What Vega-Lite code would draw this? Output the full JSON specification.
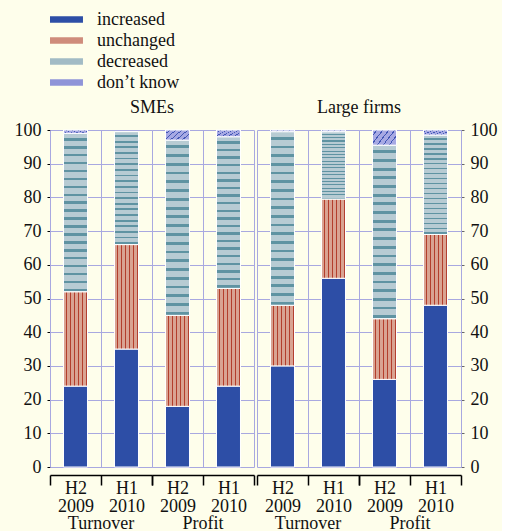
{
  "$schema": "https://vega.github.io/schema/vega-lite/v6.json",
  "background": "#FEFEEB",
  "padding": {"left": 14, "top": 9, "right": 5, "bottom": 0},
  "datasets": {
    "responses": [
      {"response": "increased", "rank": 1},
      {"response": "unchanged", "rank": 2},
      {"response": "decreased", "rank": 3},
      {"response": "don’t know", "rank": 4}
    ],
    "d": [
      {"firm": "SMEs", "measure": "Turnover", "period": "H2 2009", "response": "increased", "value": 24},
      {"firm": "SMEs", "measure": "Turnover", "period": "H2 2009", "response": "unchanged", "value": 28},
      {"firm": "SMEs", "measure": "Turnover", "period": "H2 2009", "response": "decreased", "value": 47},
      {"firm": "SMEs", "measure": "Turnover", "period": "H2 2009", "response": "don’t know", "value": 1},
      {"firm": "SMEs", "measure": "Turnover", "period": "H1 2010", "response": "increased", "value": 35},
      {"firm": "SMEs", "measure": "Turnover", "period": "H1 2010", "response": "unchanged", "value": 31},
      {"firm": "SMEs", "measure": "Turnover", "period": "H1 2010", "response": "decreased", "value": 33.5},
      {"firm": "SMEs", "measure": "Profit", "period": "H2 2009", "response": "increased", "value": 18},
      {"firm": "SMEs", "measure": "Profit", "period": "H2 2009", "response": "unchanged", "value": 27},
      {"firm": "SMEs", "measure": "Profit", "period": "H2 2009", "response": "decreased", "value": 52},
      {"firm": "SMEs", "measure": "Profit", "period": "H2 2009", "response": "don’t know", "value": 3},
      {"firm": "SMEs", "measure": "Profit", "period": "H1 2010", "response": "increased", "value": 24},
      {"firm": "SMEs", "measure": "Profit", "period": "H1 2010", "response": "unchanged", "value": 29},
      {"firm": "SMEs", "measure": "Profit", "period": "H1 2010", "response": "decreased", "value": 45},
      {"firm": "SMEs", "measure": "Profit", "period": "H1 2010", "response": "don’t know", "value": 2},
      {"firm": "Large firms", "measure": "Turnover", "period": "H2 2009", "response": "increased", "value": 30},
      {"firm": "Large firms", "measure": "Turnover", "period": "H2 2009", "response": "unchanged", "value": 18},
      {"firm": "Large firms", "measure": "Turnover", "period": "H2 2009", "response": "decreased", "value": 51.5},
      {"firm": "Large firms", "measure": "Turnover", "period": "H2 2009", "response": "don’t know", "value": 0.5},
      {"firm": "Large firms", "measure": "Turnover", "period": "H1 2010", "response": "increased", "value": 56},
      {"firm": "Large firms", "measure": "Turnover", "period": "H1 2010", "response": "unchanged", "value": 23.5},
      {"firm": "Large firms", "measure": "Turnover", "period": "H1 2010", "response": "decreased", "value": 20},
      {"firm": "Large firms", "measure": "Turnover", "period": "H1 2010", "response": "don’t know", "value": 0.5},
      {"firm": "Large firms", "measure": "Profit", "period": "H2 2009", "response": "increased", "value": 26},
      {"firm": "Large firms", "measure": "Profit", "period": "H2 2009", "response": "unchanged", "value": 18},
      {"firm": "Large firms", "measure": "Profit", "period": "H2 2009", "response": "decreased", "value": 51.5},
      {"firm": "Large firms", "measure": "Profit", "period": "H2 2009", "response": "don’t know", "value": 4.5},
      {"firm": "Large firms", "measure": "Profit", "period": "H1 2010", "response": "increased", "value": 48},
      {"firm": "Large firms", "measure": "Profit", "period": "H1 2010", "response": "unchanged", "value": 21},
      {"firm": "Large firms", "measure": "Profit", "period": "H1 2010", "response": "decreased", "value": 29.5},
      {"firm": "Large firms", "measure": "Profit", "period": "H1 2010", "response": "don’t know", "value": 1.5}
    ]
  },
  "config": {
    "font": "Liberation Serif",
    "view": {"stroke": null},
    "axis": {
      "labelFont": "Liberation Serif", "labelFontSize": 18, "labelColor": "#111",
      "gridColor": "#A8A8E0", "gridWidth": 1, "gridOpacity": 1
    },
    "header": {
      "titleFont": "Liberation Serif", "titleFontSize": 18, "titleFontWeight": "normal", "titleColor": "#111",
      "labelFont": "Liberation Serif", "labelFontSize": 18, "labelColor": "#111"
    },
    "legend": {
      "labelFont": "Liberation Serif", "labelFontSize": 18, "labelColor": "#111"
    }
  },
  "spacing": 1,
  "hconcat": [
    {
      "data": {"name": "d"},
      "transform": [
        {"filter": "datum.firm === 'SMEs'"},
        {"lookup": "response", "from": {"data": {"name": "responses"}, "key": "response", "fields": ["rank"]}}
      ],
      "facet": {
        "column": {
          "field": "measure", "type": "nominal", "sort": ["Turnover", "Profit"], "title": "SMEs",
          "header": {"labelOrient": "bottom", "titleOrient": "top", "labelPadding": 0, "titlePadding": 2}
        }
      },
      "spacing": 0,
      "spec": {
        "width": 102, "height": 337,
        "mark": {"type": "bar", "width": {"band": 0.47}, "stroke": "white", "strokeWidth": 1},
        "encoding": {
          "x": {
            "field": "period", "type": "nominal", "sort": ["H2 2009", "H1 2010"], "title": null,
            "scale": {"paddingInner": 0, "paddingOuter": 0},
            "axis": {"labelAngle": 0, "labelExpr": "split(datum.label, ' ')", "labelLineHeight": 18, "tickBand": "extent", "grid": true, "domainColor": "#000", "domainWidth": 1.5, "tickColor": "#000", "tickSize": 10, "tickWidth": 1.5, "offset": 4, "labelPadding": -6}
          },
          "y": {
            "field": "value", "type": "quantitative", "stack": "zero", "title": null,
            "scale": {"domain": [0, 100], "nice": false},
            "axis": {"orient": "left", "values": [0, 10, 20, 30, 40, 50, 60, 70, 80, 90, 100], "domainColor": "#000", "tickColor": "#000", "tickSize": 3, "labelPadding": 6, "grid": true}
          },
          "order": {"field": "rank", "type": "quantitative", "sort": "ascending"},
          "fill": {
            "field": "response", "type": "nominal",
            "sort": ["increased", "unchanged", "decreased", "don’t know"],
            "scale": {
              "domain": ["increased", "unchanged", "decreased", "don’t know"],
              "range": ["#2D4EA6", "#CF8C7B", "#A2BBC5", "#8F94D8"]
            },
            "condition": [
              {"test": "datum.response === 'unchanged'", "value": {"gradient": "linear", "x1": 0, "y1": 0, "x2": 1, "y2": 0, "stops": [
                  {"offset": 0, "color": "#D9A392"}, {"offset": 0.09, "color": "#D9A392"}, {"offset": 0.09, "color": "#B33E2C"}, {"offset": 0.14, "color": "#B33E2C"}, {"offset": 0.14, "color": "#D9A392"},
                  {"offset": 0.257, "color": "#D9A392"}, {"offset": 0.257, "color": "#B33E2C"}, {"offset": 0.307, "color": "#B33E2C"}, {"offset": 0.307, "color": "#D9A392"},
                  {"offset": 0.423, "color": "#D9A392"}, {"offset": 0.423, "color": "#B33E2C"}, {"offset": 0.473, "color": "#B33E2C"}, {"offset": 0.473, "color": "#D9A392"},
                  {"offset": 0.59, "color": "#D9A392"}, {"offset": 0.59, "color": "#B33E2C"}, {"offset": 0.64, "color": "#B33E2C"}, {"offset": 0.64, "color": "#D9A392"},
                  {"offset": 0.757, "color": "#D9A392"}, {"offset": 0.757, "color": "#B33E2C"}, {"offset": 0.807, "color": "#B33E2C"}, {"offset": 0.807, "color": "#D9A392"},
                  {"offset": 0.923, "color": "#D9A392"}, {"offset": 0.923, "color": "#B33E2C"}, {"offset": 0.973, "color": "#B33E2C"}, {"offset": 0.973, "color": "#D9A392"},
                  {"offset": 1, "color": "#D9A392"}
                ]}},
              {"test": "datum.response === 'decreased'", "value": {"gradient": "linear", "x1": 0, "y1": 0, "x2": 0, "y2": 1, "stops": [
                  {"offset": 0, "color": "#B7CBD3"},
                  {"offset": 0.03, "color": "#B7CBD3"}, {"offset": 0.03, "color": "#5F93A2"}, {"offset": 0.046, "color": "#5F93A2"}, {"offset": 0.046, "color": "#B7CBD3"},
                  {"offset": 0.08, "color": "#B7CBD3"}, {"offset": 0.08, "color": "#5F93A2"}, {"offset": 0.096, "color": "#5F93A2"}, {"offset": 0.096, "color": "#B7CBD3"},
                  {"offset": 0.13, "color": "#B7CBD3"}, {"offset": 0.13, "color": "#5F93A2"}, {"offset": 0.146, "color": "#5F93A2"}, {"offset": 0.146, "color": "#B7CBD3"},
                  {"offset": 0.18, "color": "#B7CBD3"}, {"offset": 0.18, "color": "#5F93A2"}, {"offset": 0.196, "color": "#5F93A2"}, {"offset": 0.196, "color": "#B7CBD3"},
                  {"offset": 0.23, "color": "#B7CBD3"}, {"offset": 0.23, "color": "#5F93A2"}, {"offset": 0.246, "color": "#5F93A2"}, {"offset": 0.246, "color": "#B7CBD3"},
                  {"offset": 0.28, "color": "#B7CBD3"}, {"offset": 0.28, "color": "#5F93A2"}, {"offset": 0.296, "color": "#5F93A2"}, {"offset": 0.296, "color": "#B7CBD3"},
                  {"offset": 0.33, "color": "#B7CBD3"}, {"offset": 0.33, "color": "#5F93A2"}, {"offset": 0.346, "color": "#5F93A2"}, {"offset": 0.346, "color": "#B7CBD3"},
                  {"offset": 0.38, "color": "#B7CBD3"}, {"offset": 0.38, "color": "#5F93A2"}, {"offset": 0.396, "color": "#5F93A2"}, {"offset": 0.396, "color": "#B7CBD3"},
                  {"offset": 0.43, "color": "#B7CBD3"}, {"offset": 0.43, "color": "#5F93A2"}, {"offset": 0.446, "color": "#5F93A2"}, {"offset": 0.446, "color": "#B7CBD3"},
                  {"offset": 0.48, "color": "#B7CBD3"}, {"offset": 0.48, "color": "#5F93A2"}, {"offset": 0.496, "color": "#5F93A2"}, {"offset": 0.496, "color": "#B7CBD3"},
                  {"offset": 0.53, "color": "#B7CBD3"}, {"offset": 0.53, "color": "#5F93A2"}, {"offset": 0.546, "color": "#5F93A2"}, {"offset": 0.546, "color": "#B7CBD3"},
                  {"offset": 0.58, "color": "#B7CBD3"}, {"offset": 0.58, "color": "#5F93A2"}, {"offset": 0.596, "color": "#5F93A2"}, {"offset": 0.596, "color": "#B7CBD3"},
                  {"offset": 0.63, "color": "#B7CBD3"}, {"offset": 0.63, "color": "#5F93A2"}, {"offset": 0.646, "color": "#5F93A2"}, {"offset": 0.646, "color": "#B7CBD3"},
                  {"offset": 0.68, "color": "#B7CBD3"}, {"offset": 0.68, "color": "#5F93A2"}, {"offset": 0.696, "color": "#5F93A2"}, {"offset": 0.696, "color": "#B7CBD3"},
                  {"offset": 0.73, "color": "#B7CBD3"}, {"offset": 0.73, "color": "#5F93A2"}, {"offset": 0.746, "color": "#5F93A2"}, {"offset": 0.746, "color": "#B7CBD3"},
                  {"offset": 0.78, "color": "#B7CBD3"}, {"offset": 0.78, "color": "#5F93A2"}, {"offset": 0.796, "color": "#5F93A2"}, {"offset": 0.796, "color": "#B7CBD3"},
                  {"offset": 0.83, "color": "#B7CBD3"}, {"offset": 0.83, "color": "#5F93A2"}, {"offset": 0.846, "color": "#5F93A2"}, {"offset": 0.846, "color": "#B7CBD3"},
                  {"offset": 0.88, "color": "#B7CBD3"}, {"offset": 0.88, "color": "#5F93A2"}, {"offset": 0.896, "color": "#5F93A2"}, {"offset": 0.896, "color": "#B7CBD3"},
                  {"offset": 0.93, "color": "#B7CBD3"}, {"offset": 0.93, "color": "#5F93A2"}, {"offset": 0.946, "color": "#5F93A2"}, {"offset": 0.946, "color": "#B7CBD3"},
                  {"offset": 0.98, "color": "#B7CBD3"}, {"offset": 0.98, "color": "#5F93A2"}, {"offset": 0.996, "color": "#5F93A2"}, {"offset": 0.996, "color": "#B7CBD3"},
                  {"offset": 1, "color": "#B7CBD3"}
                ]}},
              {"test": "datum.response === 'don’t know'", "value": {"gradient": "linear", "x1": 0, "y1": 0, "x2": 1, "y2": 0.5, "stops": [
                  {"offset": 0, "color": "#A7A9E3"},
                  {"offset": 0.13, "color": "#A7A9E3"}, {"offset": 0.13, "color": "#4257B5"}, {"offset": 0.17, "color": "#4257B5"}, {"offset": 0.17, "color": "#A7A9E3"},
                  {"offset": 0.33, "color": "#A7A9E3"}, {"offset": 0.33, "color": "#4257B5"}, {"offset": 0.37, "color": "#4257B5"}, {"offset": 0.37, "color": "#A7A9E3"},
                  {"offset": 0.53, "color": "#A7A9E3"}, {"offset": 0.53, "color": "#4257B5"}, {"offset": 0.57, "color": "#4257B5"}, {"offset": 0.57, "color": "#A7A9E3"},
                  {"offset": 0.73, "color": "#A7A9E3"}, {"offset": 0.73, "color": "#4257B5"}, {"offset": 0.77, "color": "#4257B5"}, {"offset": 0.77, "color": "#A7A9E3"},
                  {"offset": 0.93, "color": "#A7A9E3"}, {"offset": 0.93, "color": "#4257B5"}, {"offset": 0.97, "color": "#4257B5"}, {"offset": 0.97, "color": "#A7A9E3"},
                  {"offset": 1, "color": "#A7A9E3"}
                ]}}
            ],
            "legend": {
              "title": null, "orient": "top", "direction": "vertical", "columns": 1,
              "symbolType": "M-1,-0.32H2.14V0.32H-1Z", "symbolSize": 441, "symbolStrokeWidth": 0,
              "labelOffset": 26, "rowPadding": 1, "offset": 7,
              "encoding": {
                "symbols": {
                  "fill": {
                    "condition": [
                      {"test": "datum.value === 'unchanged'", "value": {"gradient": "linear", "x1": 0, "y1": 0, "x2": 1, "y2": 0, "stops": [
                        {"offset": 0, "color": "#D9A392"}, {"offset": 0.06, "color": "#D9A392"}, {"offset": 0.06, "color": "#B33E2C"}, {"offset": 0.09, "color": "#B33E2C"}, {"offset": 0.09, "color": "#D9A392"},
                        {"offset": 0.185, "color": "#D9A392"}, {"offset": 0.185, "color": "#B33E2C"}, {"offset": 0.215, "color": "#B33E2C"}, {"offset": 0.215, "color": "#D9A392"},
                        {"offset": 0.31, "color": "#D9A392"}, {"offset": 0.31, "color": "#B33E2C"}, {"offset": 0.34, "color": "#B33E2C"}, {"offset": 0.34, "color": "#D9A392"},
                        {"offset": 0.435, "color": "#D9A392"}, {"offset": 0.435, "color": "#B33E2C"}, {"offset": 0.465, "color": "#B33E2C"}, {"offset": 0.465, "color": "#D9A392"},
                        {"offset": 0.56, "color": "#D9A392"}, {"offset": 0.56, "color": "#B33E2C"}, {"offset": 0.59, "color": "#B33E2C"}, {"offset": 0.59, "color": "#D9A392"},
                        {"offset": 0.685, "color": "#D9A392"}, {"offset": 0.685, "color": "#B33E2C"}, {"offset": 0.715, "color": "#B33E2C"}, {"offset": 0.715, "color": "#D9A392"},
                        {"offset": 0.81, "color": "#D9A392"}, {"offset": 0.81, "color": "#B33E2C"}, {"offset": 0.84, "color": "#B33E2C"}, {"offset": 0.84, "color": "#D9A392"},
                        {"offset": 0.935, "color": "#D9A392"}, {"offset": 0.935, "color": "#B33E2C"}, {"offset": 0.965, "color": "#B33E2C"}, {"offset": 0.965, "color": "#D9A392"},
                        {"offset": 1, "color": "#D9A392"}
                      ]}},
                      {"test": "datum.value === 'decreased'", "value": {"gradient": "linear", "x1": 0, "y1": 0, "x2": 0, "y2": 1, "stops": [
                        {"offset": 0, "color": "#B7CBD3"}, {"offset": 0.38, "color": "#B7CBD3"}, {"offset": 0.38, "color": "#5F93A2"}, {"offset": 0.66, "color": "#5F93A2"}, {"offset": 0.66, "color": "#B7CBD3"}, {"offset": 1, "color": "#B7CBD3"}
                      ]}},
                      {"test": "datum.value === 'don’t know'", "value": {"gradient": "linear", "x1": 0, "y1": 0, "x2": 1, "y2": 0.2, "stops": [
                        {"offset": 0, "color": "#A7A9E3"}, {"offset": 0.1, "color": "#A7A9E3"}, {"offset": 0.1, "color": "#4257B5"}, {"offset": 0.13, "color": "#4257B5"}, {"offset": 0.13, "color": "#A7A9E3"},
                        {"offset": 0.27, "color": "#A7A9E3"}, {"offset": 0.27, "color": "#4257B5"}, {"offset": 0.3, "color": "#4257B5"}, {"offset": 0.3, "color": "#A7A9E3"},
                        {"offset": 0.44, "color": "#A7A9E3"}, {"offset": 0.44, "color": "#4257B5"}, {"offset": 0.47, "color": "#4257B5"}, {"offset": 0.47, "color": "#A7A9E3"},
                        {"offset": 0.61, "color": "#A7A9E3"}, {"offset": 0.61, "color": "#4257B5"}, {"offset": 0.64, "color": "#4257B5"}, {"offset": 0.64, "color": "#A7A9E3"},
                        {"offset": 0.78, "color": "#A7A9E3"}, {"offset": 0.78, "color": "#4257B5"}, {"offset": 0.81, "color": "#4257B5"}, {"offset": 0.81, "color": "#A7A9E3"},
                        {"offset": 0.95, "color": "#A7A9E3"}, {"offset": 0.95, "color": "#4257B5"}, {"offset": 0.98, "color": "#4257B5"}, {"offset": 0.98, "color": "#A7A9E3"},
                        {"offset": 1, "color": "#A7A9E3"}
                      ]}}
                    ],
                    "value": "#2D4EA6"
                  }
                }
              }
            }
          }
        }
      }
    },
    {
      "data": {"name": "d"},
      "transform": [
        {"filter": "datum.firm === 'Large firms'"},
        {"lookup": "response", "from": {"data": {"name": "responses"}, "key": "response", "fields": ["rank"]}}
      ],
      "facet": {
        "column": {
          "field": "measure", "type": "nominal", "sort": ["Turnover", "Profit"], "title": "Large firms",
          "header": {"labelOrient": "bottom", "titleOrient": "top", "labelPadding": 0, "titlePadding": 2}
        }
      },
      "spacing": 0,
      "spec": {
        "width": 102, "height": 337,
        "mark": {"type": "bar", "width": {"band": 0.47}, "stroke": "white", "strokeWidth": 1},
        "encoding": {
          "x": {
            "field": "period", "type": "nominal", "sort": ["H2 2009", "H1 2010"], "title": null,
            "scale": {"paddingInner": 0, "paddingOuter": 0},
            "axis": {"labelAngle": 0, "labelExpr": "split(datum.label, ' ')", "labelLineHeight": 18, "tickBand": "extent", "grid": true, "domainColor": "#000", "domainWidth": 1.5, "tickColor": "#000", "tickSize": 10, "tickWidth": 1.5, "offset": 4, "labelPadding": -6}
          },
          "y": {
            "field": "value", "type": "quantitative", "stack": "zero", "title": null,
            "scale": {"domain": [0, 100], "nice": false},
            "axis": {"orient": "right", "values": [0, 10, 20, 30, 40, 50, 60, 70, 80, 90, 100], "domainColor": "#666", "tickColor": "#666", "tickSize": 3, "labelPadding": 6, "grid": true}
          },
          "order": {"field": "rank", "type": "quantitative", "sort": "ascending"},
          "fill": {
            "field": "response", "type": "nominal",
            "sort": ["increased", "unchanged", "decreased", "don’t know"],
            "condition": [
              {"test": "datum.response === 'unchanged'", "value": {"gradient": "linear", "x1": 0, "y1": 0, "x2": 1, "y2": 0, "stops": [
                  {"offset": 0, "color": "#D9A392"}, {"offset": 0.09, "color": "#D9A392"}, {"offset": 0.09, "color": "#B33E2C"}, {"offset": 0.14, "color": "#B33E2C"}, {"offset": 0.14, "color": "#D9A392"},
                  {"offset": 0.257, "color": "#D9A392"}, {"offset": 0.257, "color": "#B33E2C"}, {"offset": 0.307, "color": "#B33E2C"}, {"offset": 0.307, "color": "#D9A392"},
                  {"offset": 0.423, "color": "#D9A392"}, {"offset": 0.423, "color": "#B33E2C"}, {"offset": 0.473, "color": "#B33E2C"}, {"offset": 0.473, "color": "#D9A392"},
                  {"offset": 0.59, "color": "#D9A392"}, {"offset": 0.59, "color": "#B33E2C"}, {"offset": 0.64, "color": "#B33E2C"}, {"offset": 0.64, "color": "#D9A392"},
                  {"offset": 0.757, "color": "#D9A392"}, {"offset": 0.757, "color": "#B33E2C"}, {"offset": 0.807, "color": "#B33E2C"}, {"offset": 0.807, "color": "#D9A392"},
                  {"offset": 0.923, "color": "#D9A392"}, {"offset": 0.923, "color": "#B33E2C"}, {"offset": 0.973, "color": "#B33E2C"}, {"offset": 0.973, "color": "#D9A392"},
                  {"offset": 1, "color": "#D9A392"}
                ]}},
              {"test": "datum.response === 'decreased'", "value": {"gradient": "linear", "x1": 0, "y1": 0, "x2": 0, "y2": 1, "stops": [
                  {"offset": 0, "color": "#B7CBD3"},
                  {"offset": 0.03, "color": "#B7CBD3"}, {"offset": 0.03, "color": "#5F93A2"}, {"offset": 0.046, "color": "#5F93A2"}, {"offset": 0.046, "color": "#B7CBD3"},
                  {"offset": 0.08, "color": "#B7CBD3"}, {"offset": 0.08, "color": "#5F93A2"}, {"offset": 0.096, "color": "#5F93A2"}, {"offset": 0.096, "color": "#B7CBD3"},
                  {"offset": 0.13, "color": "#B7CBD3"}, {"offset": 0.13, "color": "#5F93A2"}, {"offset": 0.146, "color": "#5F93A2"}, {"offset": 0.146, "color": "#B7CBD3"},
                  {"offset": 0.18, "color": "#B7CBD3"}, {"offset": 0.18, "color": "#5F93A2"}, {"offset": 0.196, "color": "#5F93A2"}, {"offset": 0.196, "color": "#B7CBD3"},
                  {"offset": 0.23, "color": "#B7CBD3"}, {"offset": 0.23, "color": "#5F93A2"}, {"offset": 0.246, "color": "#5F93A2"}, {"offset": 0.246, "color": "#B7CBD3"},
                  {"offset": 0.28, "color": "#B7CBD3"}, {"offset": 0.28, "color": "#5F93A2"}, {"offset": 0.296, "color": "#5F93A2"}, {"offset": 0.296, "color": "#B7CBD3"},
                  {"offset": 0.33, "color": "#B7CBD3"}, {"offset": 0.33, "color": "#5F93A2"}, {"offset": 0.346, "color": "#5F93A2"}, {"offset": 0.346, "color": "#B7CBD3"},
                  {"offset": 0.38, "color": "#B7CBD3"}, {"offset": 0.38, "color": "#5F93A2"}, {"offset": 0.396, "color": "#5F93A2"}, {"offset": 0.396, "color": "#B7CBD3"},
                  {"offset": 0.43, "color": "#B7CBD3"}, {"offset": 0.43, "color": "#5F93A2"}, {"offset": 0.446, "color": "#5F93A2"}, {"offset": 0.446, "color": "#B7CBD3"},
                  {"offset": 0.48, "color": "#B7CBD3"}, {"offset": 0.48, "color": "#5F93A2"}, {"offset": 0.496, "color": "#5F93A2"}, {"offset": 0.496, "color": "#B7CBD3"},
                  {"offset": 0.53, "color": "#B7CBD3"}, {"offset": 0.53, "color": "#5F93A2"}, {"offset": 0.546, "color": "#5F93A2"}, {"offset": 0.546, "color": "#B7CBD3"},
                  {"offset": 0.58, "color": "#B7CBD3"}, {"offset": 0.58, "color": "#5F93A2"}, {"offset": 0.596, "color": "#5F93A2"}, {"offset": 0.596, "color": "#B7CBD3"},
                  {"offset": 0.63, "color": "#B7CBD3"}, {"offset": 0.63, "color": "#5F93A2"}, {"offset": 0.646, "color": "#5F93A2"}, {"offset": 0.646, "color": "#B7CBD3"},
                  {"offset": 0.68, "color": "#B7CBD3"}, {"offset": 0.68, "color": "#5F93A2"}, {"offset": 0.696, "color": "#5F93A2"}, {"offset": 0.696, "color": "#B7CBD3"},
                  {"offset": 0.73, "color": "#B7CBD3"}, {"offset": 0.73, "color": "#5F93A2"}, {"offset": 0.746, "color": "#5F93A2"}, {"offset": 0.746, "color": "#B7CBD3"},
                  {"offset": 0.78, "color": "#B7CBD3"}, {"offset": 0.78, "color": "#5F93A2"}, {"offset": 0.796, "color": "#5F93A2"}, {"offset": 0.796, "color": "#B7CBD3"},
                  {"offset": 0.83, "color": "#B7CBD3"}, {"offset": 0.83, "color": "#5F93A2"}, {"offset": 0.846, "color": "#5F93A2"}, {"offset": 0.846, "color": "#B7CBD3"},
                  {"offset": 0.88, "color": "#B7CBD3"}, {"offset": 0.88, "color": "#5F93A2"}, {"offset": 0.896, "color": "#5F93A2"}, {"offset": 0.896, "color": "#B7CBD3"},
                  {"offset": 0.93, "color": "#B7CBD3"}, {"offset": 0.93, "color": "#5F93A2"}, {"offset": 0.946, "color": "#5F93A2"}, {"offset": 0.946, "color": "#B7CBD3"},
                  {"offset": 0.98, "color": "#B7CBD3"}, {"offset": 0.98, "color": "#5F93A2"}, {"offset": 0.996, "color": "#5F93A2"}, {"offset": 0.996, "color": "#B7CBD3"},
                  {"offset": 1, "color": "#B7CBD3"}
                ]}},
              {"test": "datum.response === 'don’t know'", "value": {"gradient": "linear", "x1": 0, "y1": 0, "x2": 1, "y2": 0.5, "stops": [
                  {"offset": 0, "color": "#A7A9E3"},
                  {"offset": 0.13, "color": "#A7A9E3"}, {"offset": 0.13, "color": "#4257B5"}, {"offset": 0.17, "color": "#4257B5"}, {"offset": 0.17, "color": "#A7A9E3"},
                  {"offset": 0.33, "color": "#A7A9E3"}, {"offset": 0.33, "color": "#4257B5"}, {"offset": 0.37, "color": "#4257B5"}, {"offset": 0.37, "color": "#A7A9E3"},
                  {"offset": 0.53, "color": "#A7A9E3"}, {"offset": 0.53, "color": "#4257B5"}, {"offset": 0.57, "color": "#4257B5"}, {"offset": 0.57, "color": "#A7A9E3"},
                  {"offset": 0.73, "color": "#A7A9E3"}, {"offset": 0.73, "color": "#4257B5"}, {"offset": 0.77, "color": "#4257B5"}, {"offset": 0.77, "color": "#A7A9E3"},
                  {"offset": 0.93, "color": "#A7A9E3"}, {"offset": 0.93, "color": "#4257B5"}, {"offset": 0.97, "color": "#4257B5"}, {"offset": 0.97, "color": "#A7A9E3"},
                  {"offset": 1, "color": "#A7A9E3"}
                ]}}
            ]
          }
        }
      }
    }
  ]
}
